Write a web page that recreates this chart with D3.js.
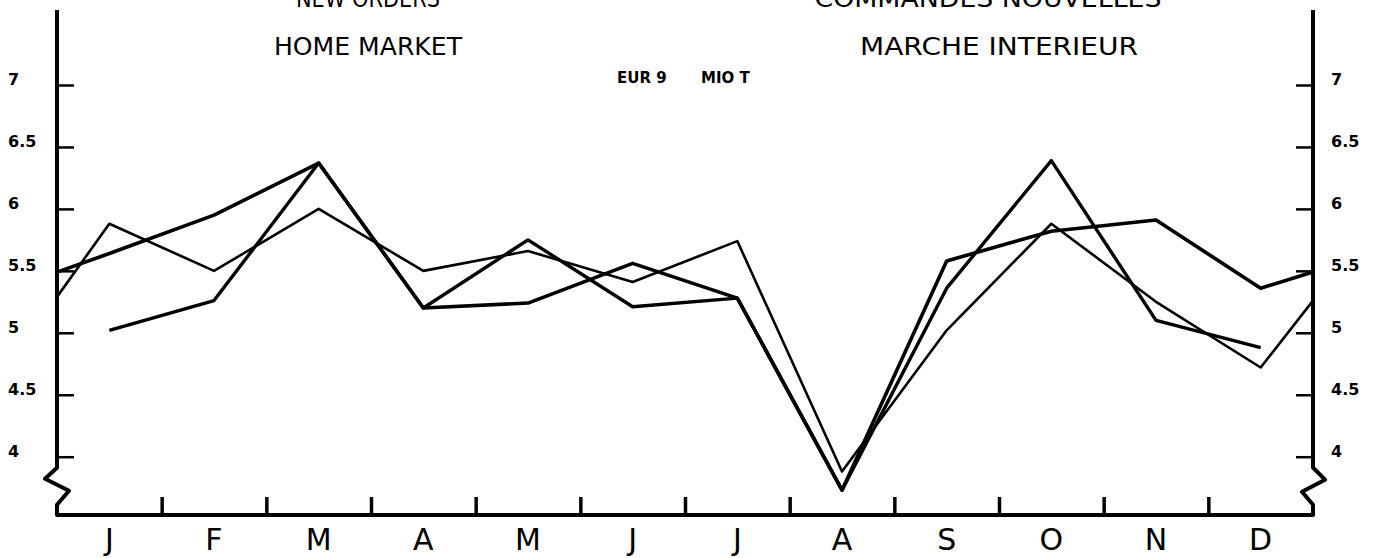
<!DOCTYPE html>
<html>
<head>
<meta charset="utf-8">
<script src="https://cdn.jsdelivr.net/npm/d3@7"></script>
<style>
  body { margin: 0; background: white; }
  text { font-family: "DejaVu Sans", sans-serif; fill: black; }
</style>
</head>
<body>
<svg width="1373" height="558"></svg>
<script>
// months and y ticks
let months = ["J", "F", "M", "A", "M", "J", "J", "A", "S", "O", "N", "D"];
let yTicks = [4, 4.5, 5, 5.5, 6, 6.5, 7];
let yTickLabels = ["4", "4.5", "5", "5.5", "6", "6.5", "7"];

// three years, mio t; edge values are where a line meets the axis
let seriesA = [5.64, 5.95, 6.37, 5.20, 5.24, 5.56, 5.28, 3.73, 5.58, 5.82, 5.91, 5.36];
let seriesAStart = 5.49, seriesAEnd = 5.49;
let seriesB = [5.88, 5.50, 6.00, 5.50, 5.66, 5.41, 5.74, 3.88, 5.02, 5.88, 5.25, 4.72];
let seriesBStart = 5.29, seriesBEnd = 5.26;
let seriesC = [5.02, 5.26, 6.37, 5.20, 5.75, 5.21, 5.28, 3.73, 5.36, 6.39, 5.10, 4.88];

var svg = d3.select("svg");

let left = 57, right = 1313, axisTop = 10, axisBottom = 515;

let x = d3.scaleLinear()
  .domain([-0.5, 11.5])
  .range([left, right]);

let y = d3.scaleLinear()
  .domain([4, 7])
  .range([456.7, 85]);

let line = d3.line()
  .x(function (d) { return x(d[0]) })
  .y(function (d) { return y(d[1]) });

function withEdges(values, start, end) {
  let pts = values.map(function (v, i) { return [i, v] });
  if (start !== undefined) pts.unshift([-0.5, start]);
  if (end !== undefined) pts.push([11.5, end]);
  return pts;
}

// axes with the broken-scale zigzag
let breakTop = y(4) + 11;
let plain = d3.line();
svg.append("path")
  .attr("d", plain([[left, axisTop], [left, breakTop], [left - 12, breakTop + 11],
    [left + 12, breakTop + 23], [left, breakTop + 37], [left, axisBottom], [right, axisBottom],
    [right, breakTop + 37], [right - 11, breakTop + 24], [right + 12, breakTop + 12],
    [right, breakTop], [right, axisTop]]))
  .attr("fill", "none")
  .attr("stroke", "black")
  .attr("stroke-width", 4)
  .attr("stroke-linejoin", "round");

let yLeft = svg.append("g")
  .attr("transform", "translate(" + left + ",0)")
  .call(d3.axisLeft(y).tickValues(yTicks).tickSize(-17).tickFormat(""));
let yRight = svg.append("g")
  .attr("transform", "translate(" + right + ",0)")
  .call(d3.axisRight(y).tickValues(yTicks).tickSize(-17).tickFormat(""));
svg.selectAll(".domain").remove();
svg.selectAll(".tick line").attr("stroke", "black").attr("stroke-width", 2.5);

yTicks.forEach(function (t, i) {
  svg.append("text")
    .attr("x", 8).attr("y", y(t))
    .attr("font-size", 16).attr("font-weight", "bold")
    .text(yTickLabels[i]);
  svg.append("text")
    .attr("x", 1331).attr("y", y(t))
    .attr("font-size", 16).attr("font-weight", "bold")
    .text(yTickLabels[i]);
});

// month ticks and labels
let xAxis = d3.axisTop(x)
  .tickValues(d3.range(0.5, 11, 1))
  .tickSize(18)
  .tickFormat("");
svg.append("g")
  .attr("transform", "translate(0," + axisBottom + ")")
  .call(xAxis)
  .call(function (g) { g.select(".domain").remove() })
  .selectAll(".tick line")
  .attr("stroke", "black")
  .attr("stroke-width", 3.5);

svg.selectAll(".month").data(months)
  .enter().append("text")
  .attr("class", "month")
  .attr("x", function (d, i) { return x(i) })
  .attr("y", 550)
  .attr("text-anchor", "middle")
  .attr("font-size", 30)
  .text(function (d) { return d });

// titles
function title(txt, cx, by, len) {
  svg.append("text")
    .attr("x", cx).attr("y", by)
    .attr("text-anchor", "middle")
    .attr("font-size", 25)
    .attr("textLength", len)
    .attr("lengthAdjust", "spacingAndGlyphs")
    .text(txt);
}
title("NEW ORDERS", 368, 7, 144);
title("HOME MARKET", 368, 55, 188);
title("COMMANDES NOUVELLES", 988, 7, 347);
title("MARCHE INTERIEUR", 999, 55, 278);

svg.append("text").attr("x", 617).attr("y", 83)
  .attr("font-size", 15).attr("font-weight", "bold").text("EUR 9");
svg.append("text").attr("x", 701).attr("y", 83)
  .attr("font-size", 15).attr("font-weight", "bold").text("MIO T");

// the three lines
let lines = [
  { pts: withEdges(seriesA, seriesAStart, seriesAEnd), w: 3.6 },
  { pts: withEdges(seriesB, seriesBStart, seriesBEnd), w: 2.6 },
  { pts: withEdges(seriesC), w: 3.4 }
];

svg.selectAll(".series").data(lines)
  .enter().append("path")
  .attr("class", "series")
  .attr("d", function (d) { return line(d.pts) })
  .attr("fill", "none")
  .attr("stroke", "black")
  .attr("stroke-width", function (d) { return d.w })
  .attr("stroke-linejoin", "round");
</script>
</body>
</html>
